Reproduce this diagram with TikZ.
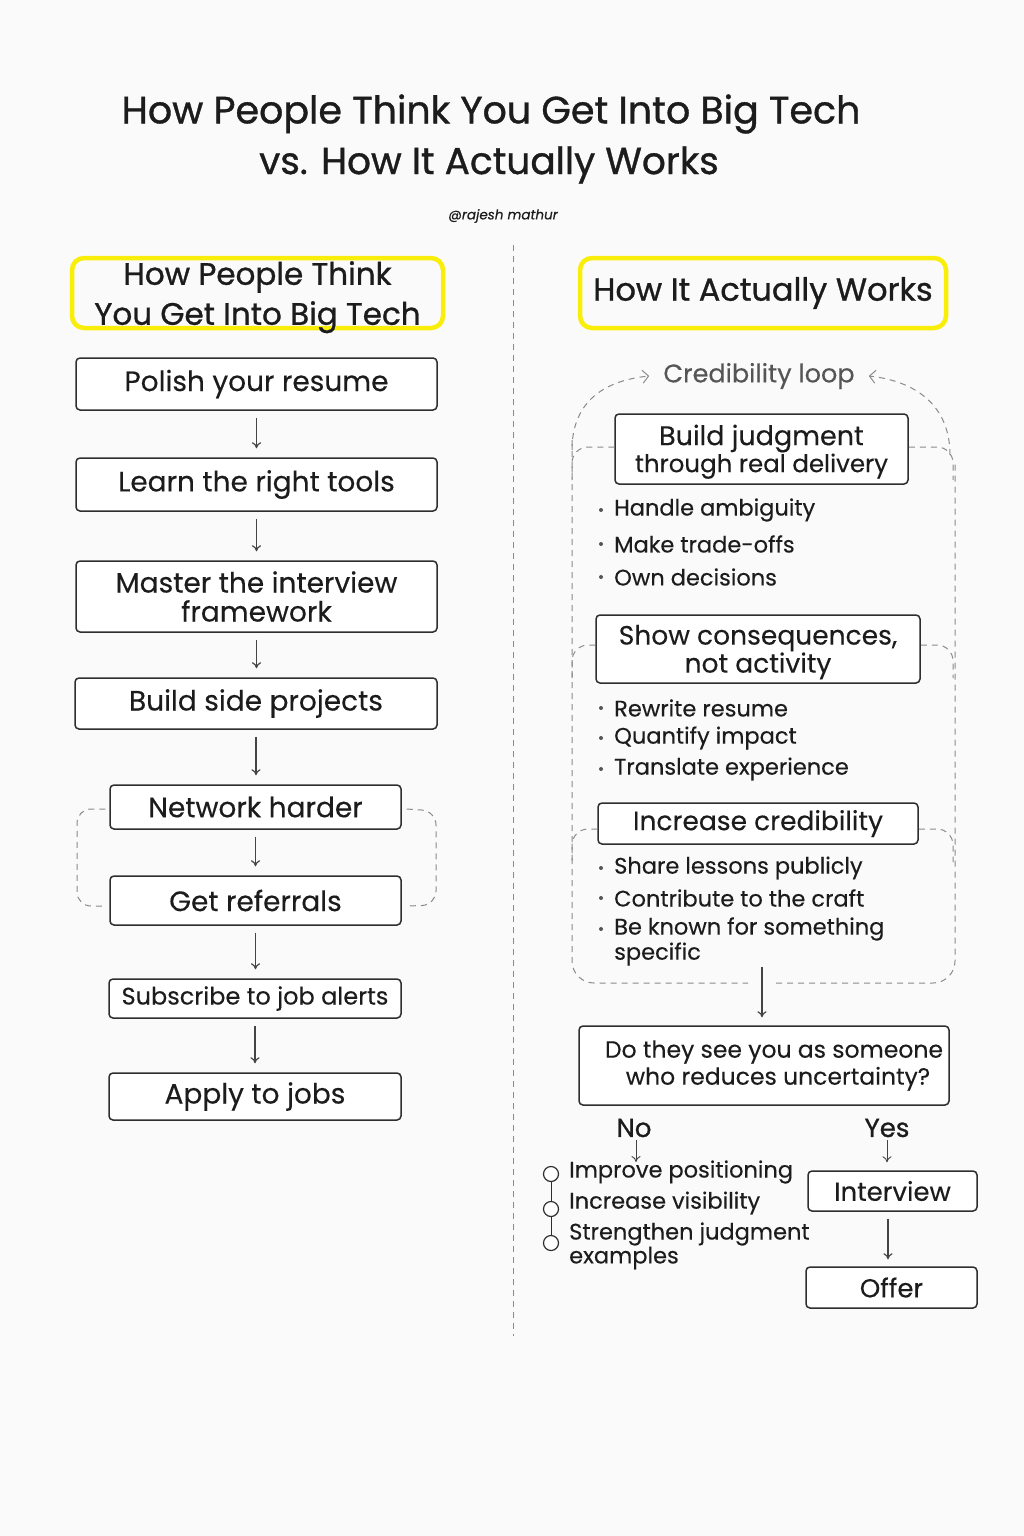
\documentclass[tikz,border=0pt]{standalone}
\usepackage{fontspec}
\setmainfont{Poppins}[FakeBold=0.25]
\newfontfamily\medf{Poppins}[FakeBold=0.9]
\usetikzlibrary{arrows.meta}
\definecolor{bgc}{HTML}{FAFAFA}
\definecolor{txt}{HTML}{1C1C1C}
\definecolor{boxc}{HTML}{2E2E2E}
\definecolor{arrc}{HTML}{444444}
\definecolor{dshc}{HTML}{8A8A8A}
\definecolor{ylw}{HTML}{F9EE0A}
\definecolor{grytxt}{HTML}{555555}
\newcommand{\fs}[1]{\fontsize{#1pt}{\dimexpr #1pt*12/10\relax}\selectfont}
\newcommand{\fsz}[2]{\fontsize{#1pt}{#2pt}\selectfont}
\tikzset{
  stepbox/.style={draw=boxc, line width=1.5pt, rounded corners=4pt, fill=white, inner sep=0pt, text=txt, align=center},
  ybox/.style={draw=ylw, line width=4.5pt, rounded corners=12pt, inner sep=0pt, text=txt, align=center},
  arr/.style={-{To[length=6pt,width=9pt]}, draw=arrc, line width=1.2pt},
  dsh/.style={draw=dshc, line width=1pt, dash pattern=on 6pt off 5pt},
  bul/.style={anchor=west, inner sep=0pt, text=txt, font=\fs{22.5}},
  lbl/.style={inner sep=0pt, text=txt},
}
\begin{document}
\begin{tikzpicture}[x=1pt,y=-1pt]
\useasboundingbox (0,0) rectangle (1024,1536);
\fill[bgc] (0,0) rectangle (1024,1536);

% title
\node[lbl, font=\medf\fs{38}] (t1) at (491,114) {How People Think You Get Into Big Tech};
\node[lbl, font=\medf\fs{37.5}] (t2) at (489,165) {vs. How It Actually Works};
\node[lbl, font=\fs{13.5}\itshape] (auth) at (503,216) {@rajesh mathur};

% divider
\coordinate (dv1) at (513,245);
\coordinate (dv2) at (513,1336);
\draw[dsh] (dv1) -- (dv2);

% headers
\node[ybox, minimum width=371pt, minimum height=70pt, font=\medf\fsz{31}{40}] (h1) at (257.5,293) {How People Think\\\raisebox{0pt}[\height][0pt]{You Get Into Big Tech}};
\node[ybox, minimum width=366pt, minimum height=70pt, font=\medf\fs{32}] (h2) at (763,293) {\raisebox{-4pt}{How It Actually Works}};

% left column
\begin{scope}[every node/.style={stepbox, font=\fs{28}}]
\node[minimum width=361pt, minimum height=52pt] (b1) at (256.5,384) {Polish your resume};
\node[minimum width=361pt, minimum height=53pt] (b2) at (256.5,484.5) {Learn the right tools};
\node[minimum width=361pt, minimum height=71pt, font=\fsz{28}{29}] (b3) at (256.5,596.5) {Master the interview\\framework};
\node[minimum width=362pt, minimum height=51pt] (b4) at (256,703.5) {Build side projects};
\node[minimum width=291pt, minimum height=44pt] (b5) at (255.5,807) {Network harder};
\node[minimum width=291pt, minimum height=49pt] (b6) at (255.5,900.5) {Get referrals};
\node[minimum width=292pt, minimum height=39pt, font=\fs{24}] (b7) at (255,998.5) {Subscribe to job alerts};
\node[minimum width=292pt, minimum height=47pt] (b8) at (255,1096.5) {Apply to jobs};
\end{scope}
\foreach \a/\b in {b1/b2,b2/b3,b3/b4,b4/b5,b5/b6,b6/b7,b7/b8}
  \draw[arr, shorten <=7pt, shorten >=9pt] (\a.south) -- (\a.south |- \b.north);

% loop bracket left column
\draw[dsh, rounded corners=14pt] ([xshift=-4pt]b5.west |- 0,809) -- (77,809) -- (77,906) -- ([xshift=-3pt]b6.west |- 0,906);
\draw[dsh, rounded corners=14pt] ([xshift=5pt]b5.east |- 0,809) -- (436,811) -- (436,905) -- ([xshift=6pt]b6.east |- 0,906);

% right column
\node[lbl, font=\fs{25.5}, text=grytxt] (cl) at (759,376) {Credibility loop};
\draw[dsh, -{Straight Barb[length=6pt,width=13pt]}] (572,450) .. controls (572,405) and (600,381) .. ([xshift=-14pt]cl.west);
\draw[dsh, -{Straight Barb[length=6pt,width=13pt]}] (950,455) .. controls (950,405) and (915,381) .. ([xshift=14pt]cl.east);

\begin{scope}[every node/.style={stepbox, font=\fs{27}}]
\node[minimum width=293pt, minimum height=70pt, font=\fsz{27}{27}] (r1) at (761.5,449) {\rule{0pt}{26pt}Build judgment\\{\fs{24.5}through real delivery}};
\node[minimum width=324pt, minimum height=68pt, font=\fsz{26.5}{27}] (r2) at (758,649) {\rule{0pt}{26pt}Show consequences,\\not activity};
\node[minimum width=320pt, minimum height=41pt, font=\fs{26.5}] (r3) at (758,823.5) {Increase credibility};
\node[minimum width=370pt, minimum height=79pt, font=\fsz{23.5}{27}] (r4) at (764,1065.5) {\hspace*{20pt}Do they see you as someone\\\hspace*{28pt}who reduces uncertainty?};
\node[minimum width=169pt, minimum height=40pt, font=\fs{26}] (iv) at (892.5,1191) {Interview};
\node[minimum width=171pt, minimum height=41pt, font=\fs{26}] (of) at (891.5,1287.5) {Offer};
\end{scope}

% enclosing dashed loop
\draw[dsh, rounded corners=22pt] (572,440) -- (572,983) -- (748,983);
\draw[dsh, rounded corners=22pt] (776,983) -- (955,983) -- (955,460);
\draw[dsh, rounded corners=16pt] (r1.west |- 0,447) -- (572,447) -- (572,480);
\draw[dsh, rounded corners=16pt] (r1.east |- 0,447) -- (953,447) -- (953,480);
\draw[dsh, rounded corners=16pt] (r2.west |- 0,645) -- (572,645) -- (572,678);
\draw[dsh, rounded corners=16pt] (r2.east |- 0,645) -- (953,645) -- (953,678);
\draw[dsh, rounded corners=16pt] (r3.west |- 0,829) -- (572,829) -- (572,862);
\draw[dsh, rounded corners=16pt] (r3.east |- 0,829) -- (953,829) -- (953,862);

% bullets
\foreach \y/\t/\n in {510/Handle ambiguity/u1, 544/Make trade-offs/u2, 577/Own decisions/u3,
  708/Rewrite resume/u4, 738/Quantify impact/u5, 769/Translate experience/u6,
  868/Share lessons publicly/u7, 898/Contribute to the craft/u8, 929/Be known for something/u9}{
  \node[bul] (\n) at (614,\y) {\t};
  \fill[grytxt] (601,\y) circle (2pt);
}
\node[bul] (u10) at (614,954) {specific};

\coordinate (lp) at (762,967);
\draw[arr, shorten >=8pt] (lp) -- (lp |- r4.north);

% No / Yes
\node[lbl, font=\medf\fs{26}] (no) at (634,1128) {No};
\node[lbl, font=\medf\fs{26}] (yes) at (887,1128) {Yes};
\coordinate (noend) at (636,1162);
\draw[arr, line width=0.9pt, shorten <=3pt] (no.south -| noend) -- (noend);
\draw[arr, line width=0.9pt, shorten <=3pt, shorten >=8pt] (yes.south) -- (yes.south |- iv.north);
\draw[arr, shorten <=7pt, shorten >=7pt] (iv.south -| 888,0) -- (of.north -| 888,0);

\begin{scope}[every node/.style={circle, draw=boxc, line width=1.2pt, minimum size=15pt, inner sep=0pt, fill=white}]
\node (c1) at (551,1174) {};
\node (c2) at (551,1209) {};
\node (c3) at (551,1243) {};
\end{scope}
\draw[boxc, line width=1pt] (c1) -- (c2) (c2) -- (c3);
\node[bul] (n1) at (569,1172) {Improve positioning};
\node[bul] (n2) at (569,1203) {Increase visibility};
\node[bul] (n3) at (569,1234) {Strengthen judgment};
\node[bul] (n4) at (569,1258) {examples};
\end{tikzpicture}
\end{document}
